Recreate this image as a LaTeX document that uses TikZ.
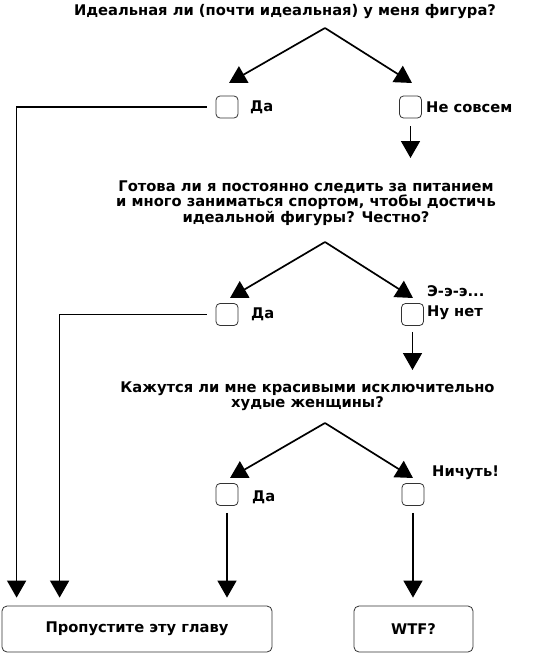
\documentclass[tikz,border=0pt]{standalone}
\usepackage{fontspec}
\setmainfont{DejaVu Sans}
\usetikzlibrary{arrows.meta}
\begin{document}
\begin{tikzpicture}[x=1pt,y=-1pt,
  txt/.style={font=\bfseries\fontsize{14.7}{15.5}\selectfont, inner sep=0pt, align=center},
  lbl/.style={font=\bfseries\fontsize{14.7}{20}\selectfont, inner sep=0pt, anchor=west, align=left},
  cbox/.style={draw=black!80, line width=0.8pt, rounded corners=4pt, minimum width=22pt, minimum height=22pt, inner sep=0pt},
  fbox/.style={draw=black!80, line width=0.8pt, rounded corners=5pt, inner sep=0pt, font=\bfseries\fontsize{14.7}{15.5}\selectfont},
  arr/.style={line width=1.7pt, -{Triangle[length=17pt,width=19pt]}}]
\useasboundingbox (0,0) rectangle (538,653);
% question 1
\node[txt] (q1) at (285,12) {Идеальная ли (почти идеальная) у меня фигура?};
\coordinate (a1) at (325,28);
\coordinate (t1l) at (229,83);
\coordinate (t1r) at (412,83);
\draw[arr] (a1) -- (t1l);
\draw[arr] (a1) -- (t1r);
\node[cbox] (b1l) at (227,107) {};
\node[cbox] (b1r) at (410.5,107) {};
\node[lbl] (l1l) at (250,107) {Да};
\node[lbl] (l1r) at (426,107) {Не совсем};
\coordinate (c1) at (410.5,158);
\draw[arr, shorten <=8pt] (b1r.south) -- (c1);
% question 2
\node[txt] (q2) at (306,203) {Готова ли я постоянно следить за питанием\\и много заниматься спортом, чтобы достичь\\идеальной фигуры? Честно?};
\coordinate (a2) at (325,242);
\coordinate (t2l) at (230,298);
\coordinate (t2r) at (413,298);
\draw[arr] (a2) -- (t2l);
\draw[arr] (a2) -- (t2r);
\node[cbox] (b2l) at (227,314.5) {};
\node[cbox] (b2r) at (412.5,314.5) {};
\node[lbl] (l2l) at (251,314.5) {Да};
\node[lbl] (l2r) at (427,303) {Э-э-э...\\Ну нет};
\coordinate (c2) at (412.5,370);
\draw[arr, shorten <=6pt] (b2r.south) -- (c2);
% question 3
\node[txt] (q3) at (307.5,396) {Кажутся ли мне красивыми исключительно\\худые женщины?};
\coordinate (a3) at (325,423);
\coordinate (t3l) at (230,478);
\coordinate (t3r) at (413,478);
\draw[arr] (a3) -- (t3l);
\draw[arr] (a3) -- (t3r);
\node[cbox] (b3l) at (227,494.5) {};
\node[cbox] (b3r) at (413,494.5) {};
\node[lbl] (l3l) at (252,497) {Да};
\node[lbl] (l3r) at (432,473) {Ничуть!};
% finals
\node[fbox, minimum width=270pt, minimum height=46pt] (f1) at (137,629) {Пропустите эту главу};
\node[fbox, minimum width=119pt, minimum height=46pt] (f2) at (413.5,629) {WTF?};
% connectors to finals
\draw[arr, shorten <=9pt] (b1l.west) -| ([xshift=15pt,yshift=8pt]f1.north west);
\draw[arr, shorten <=9pt] (b2l.west) -| ([xshift=58pt,yshift=8pt]f1.north west);
\draw[arr, shorten <=7pt, shorten >=8pt] (b3l.south) -- (b3l.south |- f1.north);
\draw[arr, shorten <=7pt, shorten >=8pt] (b3r.south) -- (b3r.south |- f2.north);
\end{tikzpicture}
\end{document}
